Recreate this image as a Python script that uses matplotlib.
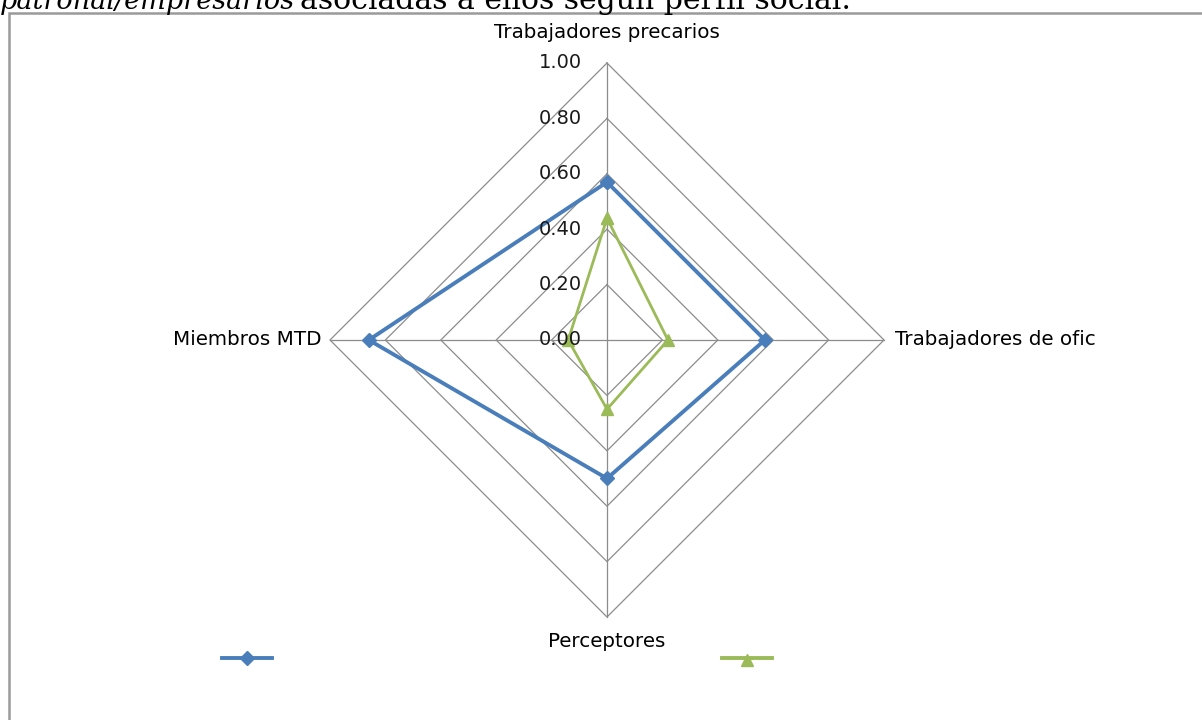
"""
Radar chart - perfil social (Trabajadores precarios / de oficio / Perceptores / Miembros MTD)
"""

import numpy as np
import matplotlib
matplotlib.use('Agg')
import matplotlib.pyplot as plt
from matplotlib.patches import Rectangle

# Data
categories = ['Trabajadores precarios', 'Trabajadores de ofic', 'Perceptores', 'Miembros MTD']
serie_azul = [0.57, 0.57, 0.50, 0.86]
serie_verde = [0.44, 0.22, 0.25, 0.14]
tick_values = [0.0, 0.2, 0.4, 0.6, 0.8, 1.0]
tick_labels = ['0.00', '0.20', '0.40', '0.60', '0.80', '1.00']

# angle for each category: top, right, bottom, left
angles = np.pi / 2 - np.arange(len(categories)) * 2 * np.pi / len(categories)


def to_xy(values):
    v = np.asarray(values, dtype=float)
    x = v * np.cos(angles)
    y = v * np.sin(angles)
    return np.append(x, x[0]), np.append(y, y[0])


W, H = 1202, 720
fig = plt.figure(figsize=(W / 100, H / 100), dpi=100)
fig.patch.set_facecolor('white')

# axes over whole figure, center of radar at pixel (607, 340), radius 277 px
cx, cy, R = 607, 340, 277
ax = fig.add_axes([0, 0, 1, 1])
ax.set_xlim(-cx / R, (W - cx) / R)
ax.set_ylim(-(H - cy) / R, cy / R)
ax.axis('off')

grid_color = '#8c8c8c'

# diamond gridlines
for t in tick_values[1:]:
    gx, gy = to_xy([t] * len(categories))
    ax.plot(gx, gy, color=grid_color, lw=0.9, zorder=1)

# spokes
for a in angles:
    ax.plot([0, np.cos(a)], [0, np.sin(a)], color=grid_color, lw=0.9, zorder=1)

# series
bx, by = to_xy(serie_azul)
ax.plot(bx, by, color='#4a7ebb', lw=2.8, marker='D', markersize=7,
        markeredgecolor='#4a7ebb', zorder=3)
gx, gy = to_xy(serie_verde)
ax.plot(gx, gy, color='#9bbb59', lw=2.0, marker='^', markersize=9,
        markeredgecolor='#9bbb59', zorder=3)

# radial tick labels
for t, lab in zip(tick_values, tick_labels):
    ax.text(-0.09, t, lab, ha='right', va='center', fontsize=14,
            color='#1a1a1a', zorder=4)

# category labels
lab_font = dict(fontsize=14.3, color='#000000')
ax.text(0, 1.0 + 0.11, categories[0], ha='center', va='center', **lab_font)
ax.text(1.0 + 0.04, 0, categories[1], ha='left', va='center', **lab_font)
ax.text(0, -1.0 - 0.09, categories[2], ha='center', va='center', **lab_font)
ax.text(-1.0 - 0.03, 0, categories[3], ha='right', va='center', **lab_font)

# legend markers without text
ax.plot([(222 - cx) / R, (272 - cx) / R], [(cy - 658) / R] * 2, color='#4a7ebb', lw=2.8)
ax.plot([(247 - cx) / R], [(cy - 658) / R], color='#4a7ebb', marker='D', markersize=7)
ax.plot([(722 - cx) / R, (772 - cx) / R], [(cy - 658) / R] * 2, color='#9bbb59', lw=2.8)
ax.plot([(747 - cx) / R], [(cy - 660) / R], color='#9bbb59', marker='^', markersize=9)

# chart border (left and top visible)
fig.patches.append(Rectangle((8.5 / W, -0.01), 1.02, 1 - 12.5 / H + 0.01,
                             transform=fig.transFigure, fill=False,
                             edgecolor='#9a9a9a', lw=1.8, zorder=0))

# caption cut at top (continues from text above the chart)
cap_y = 1 - 9 / H
t1 = fig.text(0, cap_y, 'patronal/empresarios', ha='left', va='baseline',
              fontsize=19.5, family='DejaVu Serif', style='italic', color='#000000')
fig.canvas.draw()
w1 = t1.get_window_extent().width
fig.text((w1 + 5) / W, cap_y, 'asociadas a ellos según perfil social.', ha='left',
         va='baseline', fontsize=21.5, family='DejaVu Serif', color='#000000')

fig.savefig('out.png', dpi=100, facecolor='white')
plt.close(fig)
